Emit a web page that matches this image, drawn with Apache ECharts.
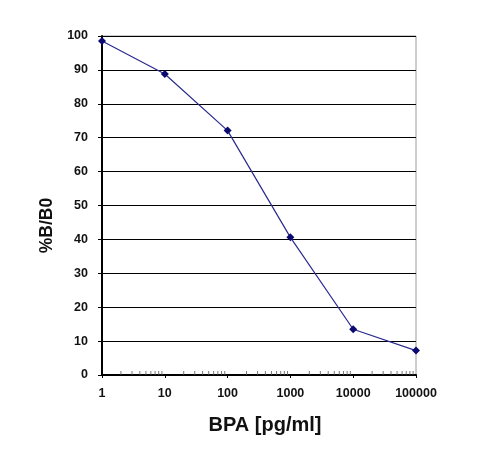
<!DOCTYPE html>
<html>
<head>
<meta charset="utf-8">
<script src="https://cdn.jsdelivr.net/npm/echarts@6/dist/echarts.min.js"></script>
<style>html,body{margin:0;padding:0;background:#fff}#c{width:479px;height:453px}</style>
</head>
<body>
<div id="c"></div>
<script>
const concentrations = [1, 10, 100, 1000, 10000, 100000];
const percentBB0 = [98.5, 88.8, 72.1, 40.6, 13.5, 7.2];
const xTickLabels = ['1', '10', '100', '1000', '10000', '100000'];
const minorTickValues = [];
[1, 10, 100, 1000, 10000].forEach(function (d) {
  for (let k = 2; k <= 9; k++) minorTickValues.push(d * k);
});

const chart = echarts.init(document.getElementById('c'));
chart.setOption({
  animation: false,
  grid: { left: 102, right: 63, top: 36, bottom: 78, show: true, borderColor: '#9a9a9a', borderWidth: 1 },
  xAxis: {
    type: 'log', logBase: 10, min: 1, max: 100000,
    name: 'BPA [pg/ml]', nameLocation: 'middle', nameGap: 40,
    nameTextStyle: { fontFamily: 'Liberation Sans', fontWeight: 'bold', fontSize: 20, color: '#111', padding: [0, 0, 0, 12] },
    axisLine: { lineStyle: { color: '#000', width: 2 } },
    axisTick: { show: true, inside: false, length: 3, lineStyle: { color: '#000' } },
    axisLabel: { margin: 12, fontFamily: 'Liberation Sans', fontWeight: 'bold', fontSize: 12.5, color: '#111',
      formatter: function (v) { const i = concentrations.indexOf(v); return i >= 0 ? xTickLabels[i] : ''; } },
    splitLine: { show: false }
  },
  yAxis: {
    type: 'value', min: 0, max: 100, interval: 10,
    name: '%B/B0', nameLocation: 'middle', nameGap: 45,
    nameTextStyle: { fontFamily: 'Liberation Sans', fontWeight: 'bold', fontSize: 17.5, color: '#111', padding: [0, 40, 0, 0] },
    axisLine: { show: true, lineStyle: { color: '#000', width: 2 } },
    axisTick: { show: true, inside: false, length: 4, lineStyle: { color: '#000' } },
    axisLabel: { margin: 14, fontFamily: 'Liberation Sans', fontWeight: 'bold', fontSize: 12.5, color: '#111' },
    splitLine: { show: true, lineStyle: { color: '#000', width: 1.2 } }
  },
  series: [
    {
      type: 'scatter',
      data: minorTickValues.map(function (v) { return [v, 0]; }),
      symbol: 'rect', symbolSize: [1, 4], symbolOffset: [0, -2],
      itemStyle: { color: '#555' }, silent: true, z: 1
    },
    {
      type: 'line',
      data: concentrations.map(function (c, i) { return [c, percentBB0[i]]; }),
      symbol: 'diamond', symbolSize: 8,
      lineStyle: { color: '#2a2a90', width: 1.2 },
      itemStyle: { color: '#0a0a70' }, z: 5
    }
  ]
});
</script>
</body>
</html>
